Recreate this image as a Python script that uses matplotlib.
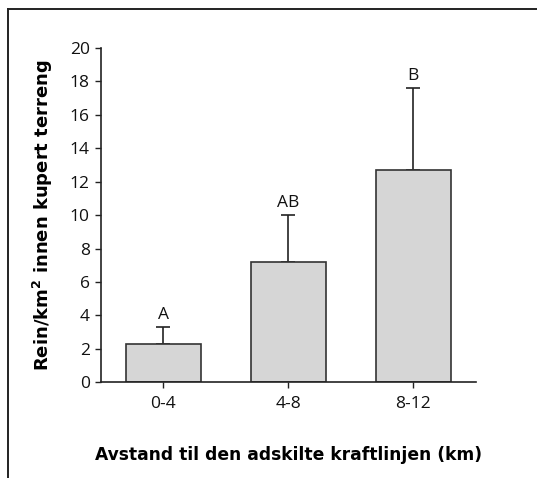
import numpy as np
import matplotlib
matplotlib.use("Agg")
import matplotlib.pyplot as plt
from matplotlib.lines import Line2D

# data
categories = ["0-4", "4-8", "8-12"]
density = [2.3, 7.2, 12.7]
err_upper = [1.0, 2.8, 4.9]
letters = ["A", "AB", "B"]
yticks = [0, 2, 4, 6, 8, 10, 12, 14, 16, 18, 20]

plt.rcParams['font.family'] = ['Open Sans', 'DejaVu Sans']

fig = plt.figure(figsize=(5.37, 4.78), dpi=100)
ax = fig.add_axes([0.188, 0.2, 0.698, 0.7])

x = np.arange(len(categories))
ax.bar(x, density, width=0.6, color="#d6d6d6", edgecolor="#333333", linewidth=1.2, zorder=2)
ax.errorbar(x, density, yerr=[np.zeros(len(x)), err_upper], fmt="none",
            ecolor="#222222", elinewidth=1.2, capsize=5, capthick=1.2, zorder=1)

for xi, v, e, lab in zip(x, density, err_upper, letters):
    ax.text(xi, v + e + 0.25, lab, ha="center", va="bottom", fontsize=12.5, color="#111111")

ax.set_xlim(-0.5, 2.5)
ax.set_ylim(0, 20)
ax.set_xticks(x)
ax.set_xticklabels(categories)
ax.set_yticks(yticks)
ax.tick_params(axis="both", labelsize=12.5, length=4, width=1, color="#222222", labelcolor="#111111")
ax.tick_params(axis="y", pad=4)
ax.tick_params(axis="x", pad=6)
for s in ["top", "right"]:
    ax.spines[s].set_visible(False)
for s in ["left", "bottom"]:
    ax.spines[s].set_linewidth(1.2)
    ax.spines[s].set_color("#222222")

ax.set_ylabel("Rein/km$^\\mathregular{2}$ innen kupert terreng", fontsize=13,
              fontweight="bold", family="DejaVu Sans", labelpad=11)
ax.set_xlabel("Avstand til den adskilte kraftlinjen (km)", fontsize=12.3,
              fontweight="bold", family="DejaVu Sans", labelpad=24)

# open frame around the figure (only top and left edges visible)
fig.add_artist(Line2D([8 / 537, 1.0], [1 - 9 / 478, 1 - 9 / 478], transform=fig.transFigure,
                      color="#222222", lw=1.4))
fig.add_artist(Line2D([8 / 537, 8 / 537], [0.0, 1 - 9 / 478], transform=fig.transFigure,
                      color="#222222", lw=1.4))

fig.savefig("out.png", dpi=100)
